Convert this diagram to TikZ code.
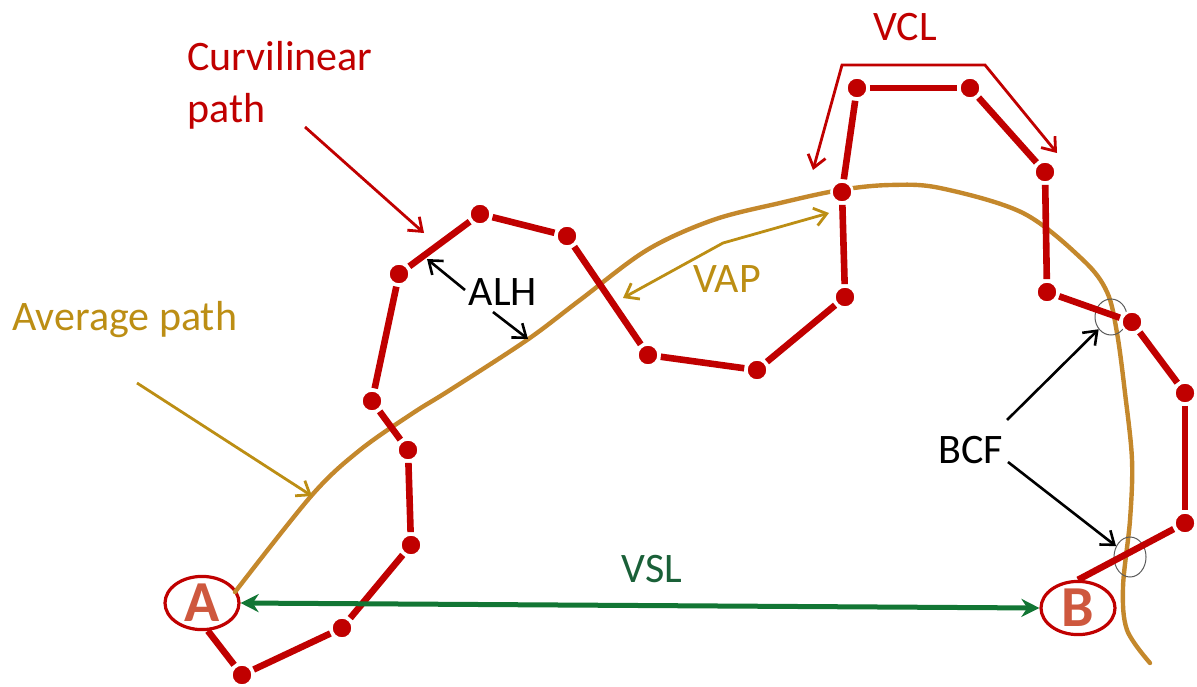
\documentclass[tikz,border=0pt]{standalone}
\usepackage{fontspec}
\setmainfont{Carlito}
\usetikzlibrary{arrows.meta,shapes.geometric}
\definecolor{pathred}{RGB}{192,0,0}
\definecolor{avgcurve}{RGB}{196,136,44}
\definecolor{avggold}{RGB}{188,142,20}
\definecolor{vslgreen}{RGB}{18,118,52}
\definecolor{vsltext}{RGB}{26,96,56}
\definecolor{letterfill}{RGB}{206,88,62}
\definecolor{bcfgray}{RGB}{90,90,90}
\tikzset{
  lbl/.style={font=\fontsize{21}{25}\selectfont, inner sep=0pt},
  dot/.style={circle, fill=pathred, draw=white, line width=1.2pt,
              minimum size=10.5pt, inner sep=0pt, outer sep=1.2pt},
  seg/.style={draw=pathred, line width=3.3pt},
  endpoint/.style={ellipse, draw=pathred, line width=1.6pt, minimum width=37pt,
              minimum height=26pt, inner sep=0pt,
              font=\fontsize{29}{30}\selectfont\bfseries, text=letterfill},
  thinred/.style={draw=pathred, line width=1.4pt, -{Straight Barb[length=6pt,width=9pt]}},
  thingold/.style={draw=avggold, line width=1.4pt, -{Straight Barb[length=6pt,width=9pt]}},
  thinblack/.style={draw=black, line width=1.3pt, -{Straight Barb[length=6pt,width=9pt]}},
  crossmark/.style={ellipse, draw=bcfgray, line width=0.5pt, inner sep=0pt}
}
\begin{document}
\begin{tikzpicture}[x=0.5pt,y=-0.5pt]
\useasboundingbox (0,0) rectangle (1197,686);

% start and end points
\node[endpoint] (A) at (202,603) {A};
\node[endpoint] (B) at (1078,608) {B};

% average path
\draw[avgcurve, line width=2.2pt, line cap=round]
  plot[smooth, tension=0.55] coordinates {
    (235,592) (312,495) (360,450) (413,413) (450,390) (527,340) (580,300)
    (647,250) (713,220) (780,203) (840,190) (890,185) (940,188) (1023,213)
    (1083,260) (1107,292) (1117,333) (1125,393) (1132,460) (1130,520)
    (1123,587) (1127,630) (1150,663)};

% beat-cross circles
\node[crossmark, minimum width=16pt, minimum height=18pt] (c1) at (1111,317) {};
\node[crossmark, minimum width=16pt, minimum height=20pt] (c2) at (1130,557) {};

% curvilinear track points
\foreach \n/\x/\y in {1/242/675, 2/342/628, 3/411/545, 4/408/450, 5/372/401,
  6/399/274, 7/480/214, 8/567/236, 9/648/355, 10/757/370, 11/845/297,
  12/842/192, 13/857/88, 14/970/88, 15/1045/172, 16/1047/292, 17/1132/322,
  18/1185/393, 19/1185/523}
  \node[dot] (p\n) at (\x,\y) {};

% curvilinear track segments
\draw[seg] (A.-78) -- (p1);
\foreach \a/\b in {1/2,2/3,3/4,4/5,5/6,6/7,7/8,8/9,9/10,10/11,11/12,12/13,
  13/14,14/15,15/16,16/17,17/18,18/19}
  \draw[seg] (p\a) -- (p\b);
\draw[seg] (p19) -- (B.north);
\foreach \n in {1,...,19} \node[dot] at (p\n) {};

% straight-line velocity
\draw[vslgreen, line width=2.5pt, {Stealth[length=9pt,width=9pt]}-{Stealth[length=9pt,width=9pt]}]
  (A.east) -- (B.west);
\node[lbl, text=vsltext, anchor=base] (vsl) at (652,582) {VSL};

% curvilinear velocity
\coordinate (vclL) at (813,170);
\coordinate (vclR) at (1057,153);
\draw[draw=pathred, line width=1.4pt,
  {Straight Barb[length=6pt,width=9pt]}-{Straight Barb[length=6pt,width=9pt]}]
  (vclL) -- (842,65) -- (985,65) -- (vclR);
\node[lbl, text=pathred, anchor=base] (vcl) at (905,40) {VCL};

% average path velocity
\coordinate (vapL) at (623,298);
\coordinate (vapR) at (829,213);
\draw[draw=avggold, line width=1.4pt,
  {Straight Barb[length=6pt,width=9pt]}-{Straight Barb[length=6pt,width=9pt]}]
  (vapL) -- (723,243) -- (vapR);
\node[lbl, text=avggold, anchor=base] (vap) at (727,292) {VAP};

% titles with pointers
\node[lbl, text=pathred, anchor=base west] (curv1) at (187,70) {Curvilinear};
\node[lbl, text=pathred, anchor=base west] (curv2) at (187,122) {path};
\coordinate (curvTip) at (424,233);
\draw[thinred] (305,127) -- (curvTip);

\node[lbl, text=avggold, anchor=base west] (avg) at (12,330) {Average path};
\coordinate (avgTip) at (312,496);
\draw[thingold] (137,383) -- (avgTip);

% amplitude of lateral head displacement
\node[lbl, anchor=base] (alh) at (503,305) {ALH};
\coordinate (alhA) at (427,259);
\coordinate (alhB) at (528,339);
\draw[thinblack] (465,290) -- (alhA);
\draw[thinblack] (493,312) -- (alhB);

% beat-cross frequency
\node[lbl, anchor=base] (bcf) at (971,463) {BCF};
\draw[thinblack] (1007,420) -- (c1);
\draw[thinblack] (1008,462) -- (c2);
\end{tikzpicture}
\end{document}
